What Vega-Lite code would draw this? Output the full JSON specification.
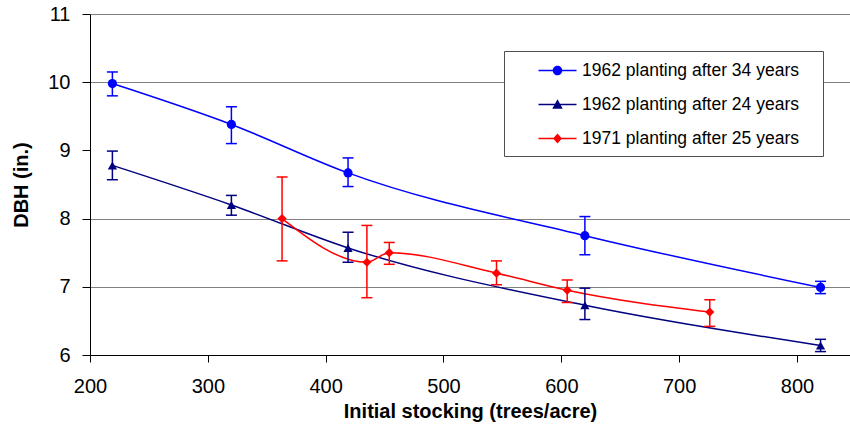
{
  "$schema": "https://vega.github.io/schema/vega-lite/v6.json",
  "width": 760,
  "height": 341,
  "autosize": {"type": "none"},
  "padding": {"left": 90, "top": 14, "right": 0, "bottom": 75},
  "background": "white",
  "config": {
    "font": "Liberation Sans",
    "view": {"stroke": null},
    "axis": {
      "domainColor": "black",
      "tickColor": "black",
      "labelColor": "black",
      "titleColor": "black",
      "labelFont": "Liberation Sans",
      "titleFont": "Liberation Sans",
      "labelFontSize": 20,
      "titleFontSize": 20,
      "titleFontWeight": "bold"
    },
    "legend": {
      "orient": "none",
      "legendX": 414,
      "legendY": 37,
      "strokeColor": "#505050",
      "fillColor": "white",
      "padding": 9,
      "symbolOffset": 34,
      "symbolSize": 361,
      "labelOffset": 14,
      "rowPadding": 15,
      "labelFontSize": 17.5,
      "labelColor": "black",
      "labelFont": "Liberation Sans",
      "labelLimit": 400,
      "symbolOpacity": 1
    }
  },
  "resolve": {
    "scale": {"color": "independent", "shape": "independent"},
    "legend": {"color": "independent", "shape": "independent"}
  },
  "data": {
    "values": [
      {"series": "1962 planting after 34 years", "stocking": 219, "dbh": 9.98, "lo": 9.8, "hi": 10.15},
      {"series": "1962 planting after 34 years", "stocking": 320, "dbh": 9.38, "lo": 9.1, "hi": 9.64},
      {"series": "1962 planting after 34 years", "stocking": 419, "dbh": 8.67, "lo": 8.47, "hi": 8.89},
      {"series": "1962 planting after 34 years", "stocking": 620, "dbh": 7.75, "lo": 7.47, "hi": 8.03},
      {"series": "1962 planting after 34 years", "stocking": 820, "dbh": 6.99, "lo": 6.9, "hi": 7.08},
      {"series": "1962 planting after 24 years", "stocking": 219, "dbh": 8.78, "lo": 8.57, "hi": 8.99},
      {"series": "1962 planting after 24 years", "stocking": 320, "dbh": 8.2, "lo": 8.05, "hi": 8.34},
      {"series": "1962 planting after 24 years", "stocking": 419, "dbh": 7.57, "lo": 7.36, "hi": 7.8},
      {"series": "1962 planting after 24 years", "stocking": 620, "dbh": 6.73, "lo": 6.52, "hi": 6.98},
      {"series": "1962 planting after 24 years", "stocking": 820, "dbh": 6.14, "lo": 6.05, "hi": 6.23},
      {"series": "1971 planting after 25 years", "stocking": 363, "dbh": 8.0, "lo": 7.38, "hi": 8.61},
      {"series": "1971 planting after 25 years", "stocking": 435, "dbh": 7.36, "lo": 6.84, "hi": 7.9},
      {"series": "1971 planting after 25 years", "stocking": 454, "dbh": 7.5, "lo": 7.33, "hi": 7.65},
      {"series": "1971 planting after 25 years", "stocking": 545, "dbh": 7.2, "lo": 7.03, "hi": 7.38},
      {"series": "1971 planting after 25 years", "stocking": 605, "dbh": 6.95, "lo": 6.77, "hi": 7.1},
      {"series": "1971 planting after 25 years", "stocking": 726, "dbh": 6.63, "lo": 6.42, "hi": 6.81}
    ]
  },
  "encoding": {
    "x": {
      "field": "stocking",
      "type": "quantitative",
      "scale": {"domain": [200, 845], "nice": false, "zero": false},
      "axis": {
        "values": [200, 300, 400, 500, 600, 700, 800],
        "grid": false,
        "tickSize": 7,
        "labelPadding": 14,
        "title": "Initial stocking (trees/acre)",
        "titlePadding": 5,
        "labelFlush": false
      }
    },
    "color": {
      "field": "series",
      "type": "nominal",
      "scale": {
        "domain": ["1962 planting after 34 years", "1962 planting after 24 years", "1971 planting after 25 years"],
        "range": ["#0000FF", "#000080", "#FF0000"]
      },
      "legend": null
    }
  },
  "layer": [
    {
      "mark": {"type": "line", "interpolate": "monotone", "strokeWidth": 1.5},
      "encoding": {
        "y": {
          "field": "dbh",
          "type": "quantitative",
          "scale": {"domain": [6, 11], "nice": false, "zero": false},
          "axis": {
            "values": [6, 7, 8, 9, 10, 11],
            "format": "d",
            "grid": true,
            "gridColor": {"condition": {"test": "datum.value === 9", "value": "transparent"}, "value": "#808080"},
            "gridWidth": 1,
            "tickSize": 8,
            "labelPadding": 12,
            "title": "DBH (in.)",
            "titlePadding": 16,
            "labelFlush": false
          }
        }
      }
    },
    {
      "mark": {"type": "rule", "strokeWidth": 1.5},
      "encoding": {
        "y": {"field": "lo", "type": "quantitative"},
        "y2": {"field": "hi"}
      }
    },
    {
      "mark": {"type": "tick", "orient": "horizontal", "size": 11, "thickness": 1.5, "opacity": 1},
      "encoding": {
        "y": {"field": "lo", "type": "quantitative"}
      }
    },
    {
      "mark": {"type": "tick", "orient": "horizontal", "size": 11, "thickness": 1.5, "opacity": 1},
      "encoding": {
        "y": {"field": "hi", "type": "quantitative"}
      }
    },
    {
      "mark": {"type": "point", "filled": true, "opacity": 1, "size": 85},
      "encoding": {
        "y": {"field": "dbh", "type": "quantitative"},
        "shape": {
          "field": "series",
          "type": "nominal",
          "scale": {
            "domain": ["1962 planting after 34 years", "1962 planting after 24 years", "1971 planting after 25 years"],
            "range": ["circle", "triangle-up", "diamond"]
          },
          "legend": null
        }
      }
    },
    {
      "transform": [{"filter": "false"}],
      "mark": {"type": "point", "filled": true, "opacity": 1, "size": 361},
      "encoding": {
        "y": {"field": "dbh", "type": "quantitative"},
        "color": {
          "field": "series",
          "type": "nominal",
          "scale": {
            "domain": ["1962 planting after 34 years", "1962 planting after 24 years", "1971 planting after 25 years"],
            "range": ["#0000FF", "#000080", "#FF0000"]
          },
          "legend": {"title": null, "labelExpr": "datum.label + '\u00a0\u00a0\u00a0\u200b'"}
        },
        "shape": {
          "field": "series",
          "type": "nominal",
          "scale": {
            "domain": ["1962 planting after 34 years", "1962 planting after 24 years", "1971 planting after 25 years"],
            "range": [
              "M-2,-0.08H2V0.08H-2ZM0.5,0A0.5,0.5,0,1,1,-0.5,0A0.5,0.5,0,1,1,0.5,0Z",
              "M-2,-0.08H2V0.08H-2ZM0,-0.55L0.55,0.45L-0.55,0.45Z",
              "M-2,-0.08H2V0.08H-2ZM0,-0.52L0.47,0L0,0.52L-0.47,0Z"
            ]
          },
          "legend": {"title": null, "labelExpr": "datum.label + '\u00a0\u00a0\u00a0\u200b'"}
        }
      }
    }
  ]
}
